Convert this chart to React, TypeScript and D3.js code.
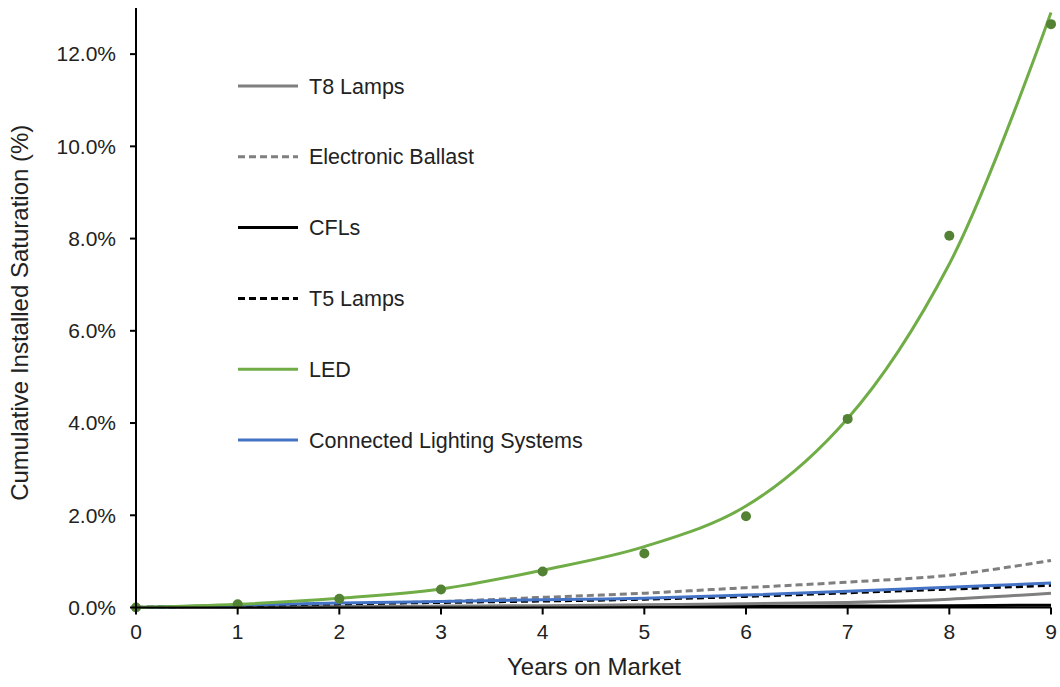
import React from "react";
import * as d3 from "d3";

const years = [0, 1, 2, 3, 4, 5, 6, 7, 8, 9];
const t8Lamps = [0, 0.01, 0.02, 0.03, 0.04, 0.06, 0.08, 0.11, 0.18, 0.31];
const electronicBallast = [0, 0.03, 0.07, 0.13, 0.22, 0.31, 0.43, 0.55, 0.7, 1.02];
const cfls = [0, 0.005, 0.01, 0.01, 0.015, 0.02, 0.025, 0.03, 0.04, 0.05];
const t5Lamps = [0, 0.04, 0.08, 0.11, 0.14, 0.18, 0.24, 0.32, 0.4, 0.48];
const ledTrend = [0, 0.07, 0.2, 0.4, 0.81, 1.32, 2.2, 4.1, 7.45, 12.9];
const connected = [0, 0.05, 0.1, 0.13, 0.17, 0.2, 0.27, 0.35, 0.44, 0.53];
const ledPoints = [0, 0.07, 0.19, 0.39, 0.78, 1.17, 1.98, 4.09, 8.06, 12.65];
const yTicks = [0, 2, 4, 6, 8, 10, 12];

const series = [
  { name: "T8 Lamps", values: t8Lamps, color: "#7F7F7F", dash: "" },
  { name: "Electronic Ballast", values: electronicBallast, color: "#7F7F7F", dash: "7,4" },
  { name: "CFLs", values: cfls, color: "#000000", dash: "" },
  { name: "T5 Lamps", values: t5Lamps, color: "#000000", dash: "7,4" },
  { name: "LED", values: ledTrend, color: "#70AD47", dash: "" },
  { name: "Connected Lighting Systems", values: connected, color: "#4472C4", dash: "" },
];

const W = 1060;
const H = 687;
const left = 136;
const right = 1051;
const top = 8;
const bottom = 607.5;

export default function App() {
  const x = d3.scaleLinear().domain([0, 9]).range([left, right]);
  const y = d3.scaleLinear().domain([0, 13]).range([bottom, top]);
  const font = "'Liberation Sans', Arial, sans-serif";

  const line = (vals: number[]) =>
    d3
      .line<number>()
      .x((_, i) => x(years[i]))
      .y((v) => y(v))
      .curve(d3.curveCatmullRom.alpha(0.5))(vals) || "";

  const drawOrder = [2, 0, 1, 3, 5, 4];

  return (
    <svg
      width={W}
      height={H}
      style={{ position: "absolute", left: 0, top: 0, background: "#fff" }}
      fontFamily={font}
    >
      {drawOrder.map((idx) => {
        const s = series[idx];
        return (
          <path
            key={s.name}
            d={line(s.values)}
            fill="none"
            stroke={s.color}
            strokeWidth={3}
            strokeDasharray={s.dash || undefined}
          />
        );
      })}
      {ledPoints.map((v, i) => (
        <circle key={i} cx={x(years[i])} cy={y(v)} r={5} fill="#548235" />
      ))}

      {/* y axis */}
      <line x1={left} x2={left} y1={top} y2={bottom} stroke="#000" strokeWidth={2} />
      {yTicks.map((t) => (
        <g key={t}>
          <line x1={left - 6} x2={left} y1={y(t)} y2={y(t)} stroke="#000" strokeWidth={2} />
          <text x={left - 20} y={y(t)} dy="0.35em" textAnchor="end" fontSize={21} fill="#222">
            {d3.format(".1f")(t) + "%"}
          </text>
        </g>
      ))}

      {/* x axis */}
      <line x1={left} x2={right} y1={bottom} y2={bottom} stroke="#000" strokeWidth={2} />
      {years.map((t) => (
        <g key={t}>
          <line x1={x(t)} x2={x(t)} y1={bottom} y2={bottom + 7} stroke="#000" strokeWidth={2} />
          <text x={x(t)} y={bottom + 24} dy="0.35em" textAnchor="middle" fontSize={21} fill="#222">
            {t}
          </text>
        </g>
      ))}

      {/* axis titles */}
      <text x={594} y={667} dy="0.35em" textAnchor="middle" fontSize={24} fill="#222">
        Years on Market
      </text>
      <text
        transform={`translate(20,${(top + bottom) / 2 + 5}) rotate(-90)`}
        dy="0.35em"
        textAnchor="middle"
        fontSize={24}
        fill="#222"
      >
        Cumulative Installed Saturation (%)
      </text>

      {/* legend */}
      {series.map((s, i) => {
        const ly = 86 + i * 70.8;
        return (
          <g key={s.name}>
            <line
              x1={238}
              x2={298}
              y1={ly}
              y2={ly}
              stroke={s.color}
              strokeWidth={3}
              strokeDasharray={s.dash || undefined}
            />
            <text x={309} y={ly} dy="0.35em" fontSize={21.5} fill="#222">
              {s.name}
            </text>
          </g>
        );
      })}
    </svg>
  );
}
